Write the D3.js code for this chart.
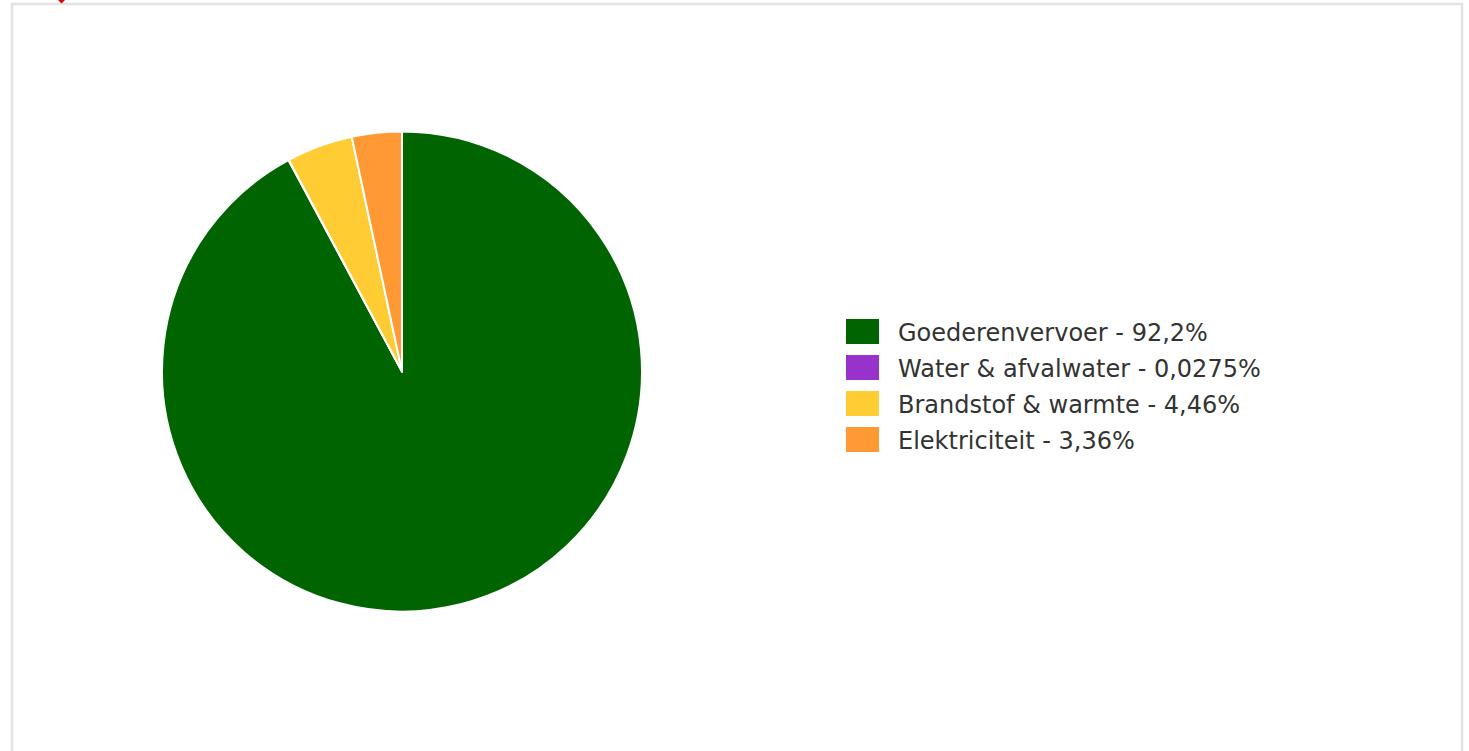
<!DOCTYPE html>
<html>
<head>
<meta charset="utf-8">
<script src="https://cdn.jsdelivr.net/npm/d3@7"></script>
<style>
  html, body { margin: 0; padding: 0; background: #fff; }
  svg { display: block; }
</style>
</head>
<body>
<svg id="chart" width="1469" height="751"></svg>
<script>
const categories = ["Goederenvervoer", "Water & afvalwater", "Brandstof & warmte", "Elektriciteit"];
const values = [92.2, 0.0275, 4.46, 3.36];
const valueLabels = ["92,2%", "0,0275%", "4,46%", "3,36%"];
const colors = ["#006400", "#9932CC", "#FFCC33", "#FF9933"];

const svg = d3.select("#chart");

// panel border
svg.append("rect")
  .attr("x", 12).attr("y", 4)
  .attr("width", 1450).attr("height", 760)
  .attr("fill", "#fff")
  .attr("stroke", "#e3e3e3")
  .attr("stroke-width", 2.5);

// small red marker at top edge
svg.append("path")
  .attr("d", "M58,0 L65,0 L61.5,3.5 Z")
  .attr("fill", "#e00000");

const data = categories.map((c, i) => ({ name: c, value: values[i], label: valueLabels[i], color: colors[i] }));

const cx = 402, cy = 371.5, r = 240;
const pie = d3.pie().value(d => d.value).sort(null);
const arc = d3.arc().innerRadius(0).outerRadius(r);

const g = svg.append("g").attr("transform", `translate(${cx},${cy})`);
g.selectAll("path")
  .data(pie(data))
  .join("path")
  .attr("d", arc)
  .attr("fill", d => d.data.color)
  .attr("stroke", "#fff")
  .attr("stroke-width", 2)
  .attr("stroke-linejoin", "round");

// legend
const lx = 846, ly = 319, rowH = 36;
const legend = svg.append("g");
const items = legend.selectAll("g")
  .data(data)
  .join("g")
  .attr("transform", (d, i) => `translate(${lx},${ly + i * rowH})`);
items.append("rect")
  .attr("width", 33).attr("height", 25)
  .attr("fill", d => d.color);
items.append("text")
  .attr("x", 52).attr("y", 14)
  .attr("dy", "0.35em")
  .attr("font-family", "DejaVu Sans, sans-serif")
  .attr("font-size", 24)
  .attr("fill", "#333")
  .text(d => `${d.name} - ${d.label}`);
</script>
</body>
</html>
